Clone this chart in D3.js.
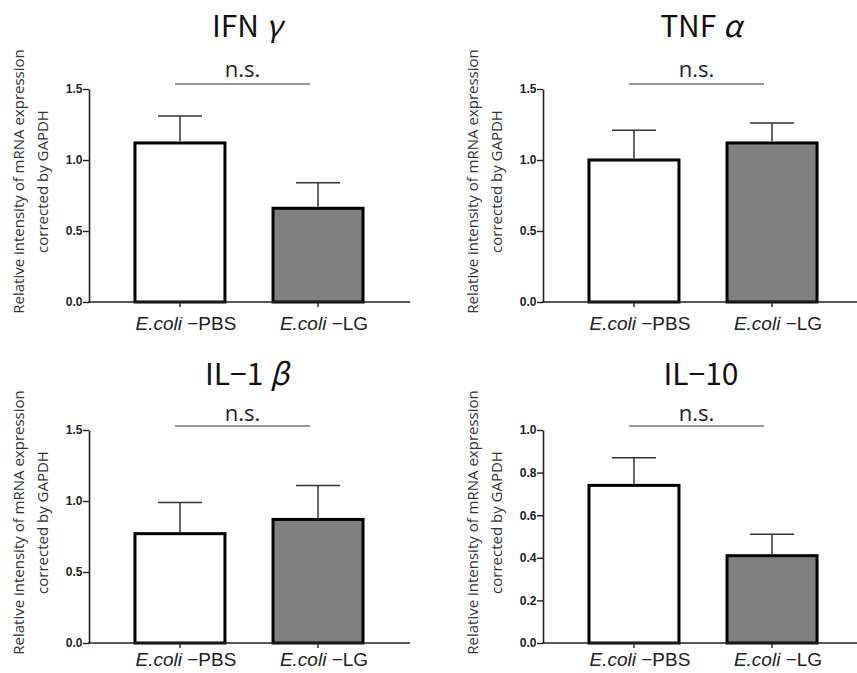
<!DOCTYPE html>
<html>
<head>
<meta charset="utf-8">
<script src="https://cdn.jsdelivr.net/npm/d3@7/dist/d3.min.js"></script>
<style>
  html, body { margin: 0; padding: 0; background: #fff; }
  svg { display: block; }
</style>
</head>
<body>
<svg id="chart" width="857" height="673"></svg>
<script>
// ---- data ----
const titleMain = ["IFN", "TNF", "IL\u22121", "IL\u221210"];
const titleGreek = ["\u03B3", "\u03B1", "\u03B2", ""];
const categories = ["PBS", "LG"];
const categoryPrefix = "E.coli";
const means = [
  [1.12, 0.66],
  [1.00, 1.12],
  [0.77, 0.87],
  [0.74, 0.41]
];
const sems = [
  [0.19, 0.18],
  [0.21, 0.14],
  [0.22, 0.24],
  [0.13, 0.10]
];
const yMax = [1.5, 1.5, 1.5, 1.0];
const yTicks = [
  [0, 0.5, 1.0, 1.5],
  [0, 0.5, 1.0, 1.5],
  [0, 0.5, 1.0, 1.5],
  [0, 0.2, 0.4, 0.6, 0.8, 1.0]
];
const sigLabel = "n.s.";
const yTitle = ["Relative intensity of mRNA expression", "corrected by GAPDH"];
const fills = ["#ffffff", "#808080"];

// ---- layout ----
const colX = [89, 543];
const rowY = [89, 430];
const plotW = 320, plotH = 213;
const titleOffset = [52, 45];
const labelOffset = [28, 23];

const svg = d3.select("#chart");

means.forEach((vals, i) => {
  const col = i % 2, row = Math.floor(i / 2);
  const g = svg.append("g").attr("transform", `translate(${colX[col]},${rowY[row]})`);

  const x = d3.scaleBand().domain(categories).range([0, plotW])
    .paddingInner(0.348).paddingOuter(0.333);
  const y = d3.scaleLinear().domain([0, yMax[i]]).range([plotH, 0]);

  // bars
  g.selectAll("rect.bar").data(vals).join("rect")
    .attr("class", "bar")
    .attr("x", (d, j) => x(categories[j]))
    .attr("width", x.bandwidth())
    .attr("y", d => y(d))
    .attr("height", d => plotH - y(d))
    .attr("fill", (d, j) => fills[j])
    .attr("stroke", "#000")
    .attr("stroke-width", 3);

  // error bars
  const capHalf = 22;
  vals.forEach((d, j) => {
    const cx = x(categories[j]) + x.bandwidth() / 2;
    const top = y(d + sems[i][j]);
    g.append("line").attr("x1", cx).attr("x2", cx)
      .attr("y1", y(d) - 1.5).attr("y2", top)
      .attr("stroke", "#333").attr("stroke-width", 1.5);
    g.append("line").attr("x1", cx - capHalf).attr("x2", cx + capHalf)
      .attr("y1", top).attr("y2", top)
      .attr("stroke", "#333").attr("stroke-width", 1.5);
  });

  // y axis
  const ya = g.append("g").call(
    d3.axisLeft(y).tickValues(yTicks[i]).tickSize(6).tickSizeOuter(0)
      .tickFormat(d3.format(".1f")));
  ya.select(".domain").attr("stroke", "#222").attr("stroke-width", 1.6);
  ya.selectAll(".tick line").attr("stroke", "#222").attr("stroke-width", 1.4);
  ya.selectAll(".tick text")
    .attr("x", -6.5)
    .attr("font-family", "Liberation Sans, Arial, sans-serif")
    .attr("font-weight", "bold")
    .attr("font-size", 12)
    .attr("fill", "#222");

  // x axis
  const xa = g.append("g").attr("transform", `translate(0,${plotH})`).call(
    d3.axisBottom(x).tickSize(5).tickSizeOuter(0).tickFormat(""));
  xa.select(".domain").attr("stroke", "#222").attr("stroke-width", 1.6)
    .attr("d", `M-0.8,0H${plotW + 1}`);
  xa.selectAll(".tick line").attr("stroke", "#222").attr("stroke-width", 1.4);

  // x labels
  categories.forEach((c, j) => {
    const cx = x(c) + x.bandwidth() / 2;
    const t = g.append("text")
      .attr("x", cx + 6).attr("y", plotH + labelOffset[row])
      .attr("text-anchor", "middle")
      .attr("font-family", "Liberation Sans, Arial, sans-serif")
      .attr("font-size", 19)
      .attr("fill", "#222");
    t.append("tspan").attr("font-style", "italic").text(categoryPrefix);
    t.append("tspan").text(" \u2212" + c);
  });

  // y title
  const yt = g.append("text")
    .attr("transform", `translate(0,${plotH / 2 - 14}) rotate(-90)`)
    .attr("text-anchor", "middle")
    .attr("font-family", "Open Sans, sans-serif")
    .attr("font-size", 15)
    .attr("fill", "#333");
  yt.append("tspan").attr("x", 0).attr("y", -65).text(yTitle[0]);
  yt.append("tspan").attr("x", 0).attr("y", -41).text(yTitle[1]);

  // significance line
  const c0 = x(categories[0]) + x.bandwidth() / 2;
  const c1 = x(categories[1]) + x.bandwidth() / 2;
  const sx0 = c0 - 5, sx1 = c1 - 8;
  const sy = row === 0 ? -5 : -4;
  g.append("line").attr("x1", sx0).attr("x2", sx1)
    .attr("y1", sy).attr("y2", sy)
    .attr("stroke", "#777").attr("stroke-width", 1.5);
  g.append("text")
    .attr("x", (sx0 + sx1) / 2).attr("y", sy - (row === 0 ? 7 : 5))
    .attr("text-anchor", "middle")
    .attr("font-family", "Open Sans, sans-serif")
    .attr("font-size", 22)
    .attr("fill", "#222")
    .text(sigLabel);

  // title
  const tt = g.append("text")
    .attr("x", 158).attr("y", -titleOffset[row])
    .attr("text-anchor", "middle")
    .attr("font-family", "Noto Sans CJK JP, Noto Sans, sans-serif")
    .attr("font-size", 30)
    .attr("fill", "#111");
  tt.append("tspan").text(titleMain[i]);
  if (titleGreek[i]) {
    tt.append("tspan").text(" ");
    tt.append("tspan").attr("font-style", "italic").text(titleGreek[i]);
  }
});
</script>
</body>
</html>
